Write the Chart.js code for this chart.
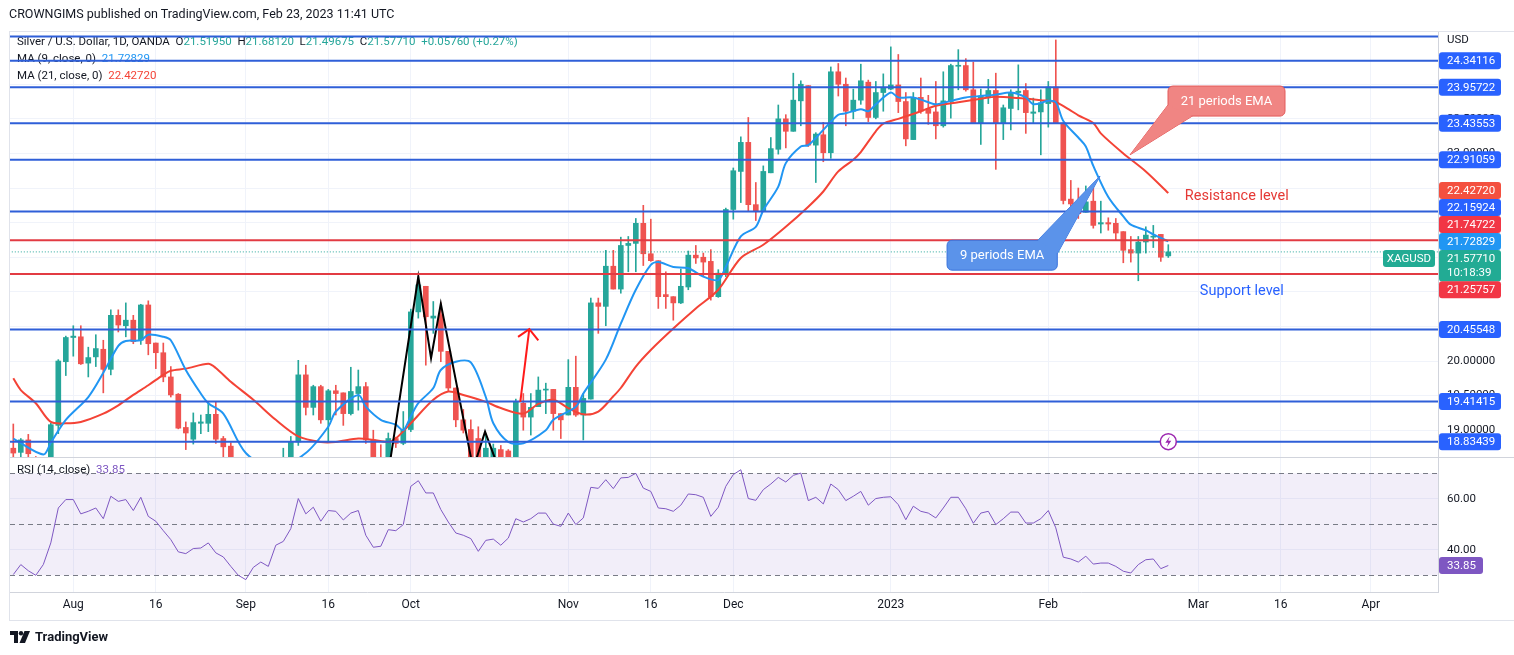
<!DOCTYPE html>
<html lang="en">
  <head>
    <meta charset="UTF-8" />
    <meta name="viewport" content="width=device-width, initial-scale=1.0" />
    <title>XAGUSD 1D</title>
    <script src="https://cdn.jsdelivr.net/npm/chart.js@4.4.1/dist/chart.umd.min.js"></script>
    <style>
      html,
      body {
        margin: 0;
        padding: 0;
        background: #fff;
      }
      body {
        width: 1514px;
        height: 655px;
        position: relative;
        overflow: hidden;
        font-family: Roboto, "Liberation Sans", sans-serif;
        color: #131722;
      }
      #priceChart {
        position: absolute;
        left: 0;
        top: 0;
      }
      .published {
        position: absolute;
        left: 9px;
        top: 6px;
        font-size: 12.5px;
        z-index: 2;
      }
      .frame {
        position: absolute;
        left: 9px;
        top: 31px;
        width: 1504px;
        height: 588px;
        border: 1px solid #e0e3eb;
        pointer-events: none;
      }
      .brand {
        position: absolute;
        left: 10px;
        top: 629px;
        font-size: 13px;
        font-weight: bold;
        display: flex;
        align-items: center;
        gap: 5px;
        z-index: 2;
      }
    </style>
  </head>
  <body>
    <div class="published">CROWNGIMS published on TradingView.com, Feb 23, 2023 11:41 UTC</div>
    <div class="frame"></div>
    <canvas id="priceChart" width="1514" height="655"></canvas>
    <div class="brand">
      <svg width="20" height="12" viewBox="0 0 20 12">
        <path d="M0 0h8v12H4V4H0z" fill="#131722" />
        <circle cx="11" cy="2.2" r="2.2" fill="#131722" />
        <path d="M14.5 0h5.5l-5 12H9.5z" fill="#131722" />
      </svg>
      TradingView
    </div>

    <script>
      // ---- Data ----
      // first bar is 2022-07-20, daily bars (weekdays, no bar on Dec 26 and Jan 2)
      const skipDays = ["2022-12-26", "2023-01-02"];
      const tickDates = [
        "2022-08-01", "2022-08-16", "2022-09-01", "2022-09-16", "2022-10-03",
        "2022-11-01", "2022-11-16", "2022-12-01", "2023-01-03", "2023-02-01",
        "2023-03-01", "2023-03-16", "2023-04-03",
      ];
      const tickTexts = ["Aug", "16", "Sep", "16", "Oct", "Nov", "16", "Dec", "2023", "Feb", "Mar", "16", "Apr"];

      const opens = [
        18.74, 18.68, 18.86, 18.6, 18.5, 18.5, 19.07, 19.99, 20.34, 20.35,
        19.97, 20.06, 20.17, 19.88, 20.66, 20.51, 20.59, 20.3, 20.81, 20.26,
        20.12, 19.77, 19.52, 19.04, 18.87, 19.1, 19.1, 19.23, 18.88, 18.77,
        18.5, 18.2, 18.0, 17.75, 17.85, 18.0, 18.1, 18.3, 18.83, 19.8,
        19.33, 19.63, 19.15, 19.57, 19.54, 19.24, 19.53, 19.63, 18.86, 18.55,
        18.5, 18.88, 18.81, 19.01, 20.71, 21.08, 20.62, 20.67, 20.14, 19.61,
        19.15, 19.01, 18.88, 18.6, 18.6, 18.72, 18.7, 18.6, 19.39, 19.19,
        19.34, 19.58, 19.59, 19.24, 19.22, 19.62, 19.22, 19.45, 20.84, 20.79,
        21.37, 21.04, 21.67, 21.7, 21.99, 21.55, 21.45, 20.96, 20.93, 20.84,
        21.07, 21.53, 21.5, 21.44, 20.93, 21.26, 22.19, 22.74, 23.16, 22.26,
        22.16, 22.72, 23.06, 23.5, 23.32, 23.76, 23.98, 23.12, 23.27, 23.01,
        24.18, 24.0, 23.61, 23.77, 24.03, 23.52, 23.88, 23.93, 23.99, 23.75,
        23.2, 23.81, 23.64, 23.6, 23.4, 23.75, 24.26, 24.27, 23.92, 23.43,
        23.82, 23.91, 23.43, 23.65, 23.88, 23.91, 23.58, 23.6, 23.72, 23.96,
        23.44, 22.34, 22.27, 22.15, 22.31, 21.98, 22.0, 21.99, 21.87, 21.61,
        21.56, 21.72, 21.79, 21.83, 21.5195,
      ];
      const highs = [
        19.09, 18.88, 18.94, 18.62, 18.6, 19.1, 20.02, 20.36, 20.51, 20.51,
        20.2, 20.38, 20.3, 20.74, 20.74, 20.84, 20.66, 20.82, 20.87, 20.26,
        20.26, 19.92, 19.53, 19.12, 19.25, 19.22, 19.41, 19.41, 18.91, 18.82,
        18.55, 18.35, 18.1, 18.0, 18.1, 18.3, 18.74, 18.91, 20.01, 19.94,
        19.65, 19.65, 19.59, 19.65, 19.54, 19.91, 19.87, 19.69, 19.0, 18.79,
        18.96, 18.9, 19.27, 20.75, 21.22, 21.08, 20.86, 20.84, 20.14, 19.61,
        19.3, 19.15, 19.05, 18.93, 18.8, 18.78, 18.72, 19.45, 19.53, 19.53,
        19.77, 19.68, 19.59, 19.24, 20.02, 20.07, 19.53, 20.91, 20.91, 21.6,
        21.6, 21.79, 21.8, 22.06, 22.25, 22.05, 21.45, 21.29, 20.93, 21.33,
        21.59, 21.67, 21.56, 21.61, 21.32, 22.21, 22.79, 23.24, 23.52, 22.58,
        22.82, 23.23, 23.7, 23.56, 24.16, 24.05, 23.98, 23.3, 23.45, 24.25,
        24.3, 24.09, 23.93, 24.29, 24.06, 24.04, 24.15, 24.54, 24.43, 23.88,
        23.88, 24.09, 23.84, 24.04, 24.18, 24.29, 24.5, 24.37, 24.32, 23.93,
        24.07, 24.16, 23.7, 23.92, 24.28, 24.01, 23.8, 23.92, 24.04, 24.64,
        23.44, 22.61, 22.5, 22.53, 22.52, 22.31, 22.07, 22.06, 21.87, 21.8,
        21.8, 21.94, 21.96, 21.83, 21.6812,
      ];
      const lows = [
        18.55, 18.6, 18.55, 18.4, 18.38, 18.45, 18.95, 19.79, 20.07, 19.95,
        19.77, 19.92, 19.54, 19.8, 20.42, 20.35, 20.25, 20.24, 20.09, 19.89,
        19.7, 19.48, 19.02, 18.72, 18.8, 18.95, 18.98, 18.81, 18.6, 18.4,
        18.1, 17.95, 17.6, 17.55, 17.7, 17.9, 17.95, 18.2, 18.78, 19.22,
        19.22, 19.1, 18.83, 19.22, 19.07, 19.22, 19.29, 18.81, 18.4, 18.3,
        18.4, 18.75, 18.79, 18.98, 20.62, 19.94, 20.4, 19.99, 19.56, 19.05,
        18.96, 18.4, 18.5, 18.45, 18.5, 18.5, 18.45, 18.55, 19.0, 18.93,
        19.34, 19.24, 19.0, 18.88, 19.22, 19.2, 18.86, 19.45, 20.4, 20.51,
        21.04, 20.98, 21.29, 21.29, 21.38, 21.44, 20.76, 20.76, 20.59, 20.83,
        21.03, 21.41, 21.22, 20.88, 20.92, 21.22, 22.05, 22.29, 22.16, 22.03,
        22.16, 22.72, 22.99, 23.08, 23.32, 23.4, 23.1, 22.58, 22.88, 22.93,
        23.83, 23.4, 23.5, 23.71, 23.46, 23.5, 23.61, 23.92, 23.59, 23.11,
        23.2, 23.58, 23.42, 23.21, 23.38, 23.51, 23.92, 23.9, 23.43, 23.13,
        23.72, 22.77, 23.2, 23.34, 23.63, 23.29, 23.43, 22.98, 23.38, 23.43,
        22.27, 22.17, 22.06, 22.15, 21.92, 21.85, 21.89, 21.75, 21.42, 21.43,
        21.16, 21.56, 21.64, 21.44, 21.49675,
      ];
      const closes = [
        18.67, 18.86, 18.66, 18.5, 18.45, 19.08, 20.0, 20.34, 20.36, 19.96,
        20.05, 20.18, 19.88, 20.66, 20.52, 20.59, 20.28, 20.81, 20.25, 20.12,
        19.77, 19.51, 19.03, 18.96, 19.11, 19.12, 19.23, 18.87, 18.76, 18.5,
        18.2, 18.0, 17.75, 17.85, 18.0, 18.1, 18.3, 18.83, 19.8, 19.33,
        19.63, 19.15, 19.57, 19.53, 19.24, 19.56, 19.63, 18.86, 18.55, 18.45,
        18.88, 18.81, 19.01, 20.71, 21.1, 20.64, 20.65, 20.14, 19.61, 19.15,
        19.0, 18.55, 18.6, 18.74, 18.74, 18.6, 18.6, 19.41, 19.19, 19.33,
        19.58, 19.59, 19.24, 19.15, 19.62, 19.22, 19.46, 20.84, 20.79, 21.37,
        21.04, 21.67, 21.7, 21.99, 21.55, 21.45, 20.93, 20.93, 20.84, 21.08,
        21.53, 21.49, 21.43, 20.93, 21.27, 22.19, 22.75, 23.16, 22.26, 22.16,
        22.74, 23.07, 23.5, 23.32, 23.77, 24.0, 23.12, 23.28, 23.01, 24.18,
        24.0, 23.61, 23.77, 24.05, 23.52, 23.88, 23.95, 23.99, 23.75, 23.21,
        23.81, 23.61, 23.58, 23.4, 23.76, 24.27, 24.27, 23.92, 23.43, 23.83,
        23.91, 23.43, 23.66, 23.88, 23.9, 23.59, 23.6, 23.73, 23.96, 23.43,
        22.32, 22.27, 22.13, 22.3, 21.96, 22.0, 21.98, 21.85, 21.6, 21.56,
        21.72, 21.82, 21.8, 21.5, 21.5771,
      ];

      // moving averages: [bar index, value]
      const ma9Points = [
        [0, 18.88], [4, 18.65], [5, 18.82], [7, 19.15], [10, 19.48], [12, 19.83], [14, 20.22],
        [15, 20.29], [17, 20.3], [18, 20.38], [20, 20.35], [21, 20.3], [23, 19.87], [25, 19.53],
        [26, 19.39], [28, 19.24], [31, 18.67], [35, 18.45], [39, 18.67], [42, 19.05], [43, 19.27],
        [46, 19.51], [47, 19.34], [49, 19.15], [51, 19.08], [52, 19.0], [53, 19.2], [54, 19.39],
        [56, 19.61], [57, 19.87], [59, 19.99], [61, 19.98], [63, 19.48], [64, 19.1], [66, 18.83],
        [68, 18.81], [71, 19.0], [72, 19.15], [75, 19.34], [76, 19.53], [79, 20.02], [81, 20.54],
        [83, 21.03], [85, 21.39], [86, 21.43], [88, 21.36], [90, 21.34], [92, 21.22], [94, 21.17],
        [95, 21.36], [97, 21.8], [99, 21.94], [100, 22.18], [102, 22.52], [103, 22.86], [105, 23.1],
        [106, 23.12], [108, 23.34], [110, 23.56], [111, 23.58], [113, 23.64], [114, 23.61],
        [115, 23.71], [117, 23.88], [118, 23.81], [120, 23.81], [122, 23.74], [123, 23.71],
        [125, 23.76], [127, 23.81], [129, 23.83], [131, 23.85], [133, 23.88], [135, 23.81],
        [136, 23.71], [138, 23.76], [139, 23.74], [140, 23.47], [142, 23.23], [143, 23.1],
        [144, 22.82], [146, 22.37], [148, 22.09], [149, 21.97], [151, 21.89], [152, 21.83],
        [154, 21.72829],
      ];
      const ma21Points = [
        [0, 19.75], [1, 19.58], [3, 19.39], [5, 19.12], [7, 19.1], [9, 19.12], [12, 19.24],
        [14, 19.36], [16, 19.51], [18, 19.65], [20, 19.8], [21, 19.86], [23, 19.89], [26, 19.96],
        [27, 19.9], [29, 19.7], [32, 19.44], [35, 19.15], [38, 18.91], [41, 18.83], [43, 18.83],
        [46, 18.88], [48, 18.86], [50, 18.83], [51, 18.88], [53, 19.1], [56, 19.44], [58, 19.56],
        [60, 19.51], [63, 19.41], [65, 19.32], [68, 19.24], [70, 19.38], [72, 19.44], [74, 19.32],
        [76, 19.23], [78, 19.27], [80, 19.49], [81, 19.61], [83, 19.92], [85, 20.16], [88, 20.47],
        [91, 20.76], [94, 21.03], [97, 21.49], [100, 21.68], [103, 21.94], [106, 22.23],
        [108, 22.45], [110, 22.74], [112, 22.91], [113, 23.02], [115, 23.32], [116, 23.43],
        [118, 23.5], [121, 23.61], [123, 23.69], [126, 23.74], [129, 23.79], [131, 23.82],
        [134, 23.8], [137, 23.77], [139, 23.74], [141, 23.62], [142, 23.55], [144, 23.44],
        [145, 23.29], [148, 23.0], [151, 22.74], [154, 22.4272],
      ];

      const rsi = [
        30.3, 34.2, 31.8, 30.0, 34.2, 42.7, 56.4, 59.7, 59.7, 54.1,
        55.1, 56.4, 52.2, 61.0, 59.0, 59.7, 55.4, 60.6, 53.1, 51.2,
        47.5, 44.0, 39.2, 38.5, 40.5, 40.7, 42.7, 38.8, 37.2, 33.5,
        30.0, 28.3, 33.1, 35.2, 33.5, 41.8, 43.3, 48.3, 60.1, 54.1,
        56.7, 51.2, 55.4, 55.1, 51.7, 54.4, 55.4, 45.7, 41.0, 41.4,
        47.9, 47.5, 49.9, 64.9, 67.1, 62.3, 62.3, 55.8, 50.9, 46.6,
        45.7, 44.4, 39.4, 43.7, 44.2, 41.8, 44.6, 52.2, 50.9, 52.2,
        54.4, 54.4, 50.1, 49.2, 54.4, 49.9, 52.5, 64.5, 64.1, 67.5,
        64.0, 68.2, 68.4, 70.0, 64.2, 62.9, 56.4, 56.1, 55.1, 57.5,
        61.9, 61.6, 60.6, 53.1, 56.7, 64.9, 69.5, 71.4, 60.1, 59.4,
        63.6, 65.8, 68.4, 66.6, 69.2, 70.1, 59.3, 60.6, 58.0, 65.8,
        63.6, 59.3, 61.0, 62.9, 57.5, 60.1, 60.6, 60.8, 57.7, 51.8,
        57.1, 55.1, 54.4, 52.5, 56.4, 60.6, 60.6, 56.1, 50.4, 54.4,
        55.1, 49.9, 52.2, 54.8, 54.8, 50.5, 50.5, 52.2, 55.4, 48.6,
        37.1, 36.4, 35.2, 37.5, 34.4, 34.8, 34.8, 33.5, 31.6, 30.9,
        34.2, 36.1, 36.4, 32.6, 33.85,
      ];
      const rsiLevels = [70, 50, 30];

      const blueLevels = [24.69, 24.34116, 23.95722, 23.43553, 22.91059, 22.15924, 20.45548, 19.41415, 18.83439];
      const redLevels = [21.74722, 21.25757];
      const priceTicks = [19, 19.5, 20, 20.5, 21, 21.5, 22, 22.5, 23, 23.5, 24];
      const rsiTicks = [40, 60];

      // hand-drawn zigzag (black) and arrow (red), [bar index, price]
      const zigzag = [[50.1, 18.45], [54, 21.22], [55.7, 20.04], [57, 20.83], [61.3, 18.45], null, [61.7, 18.57], [62.9, 18.98], [64.3, 18.57]];
      const arrowShaft = [[67.6, 19.41], [68.8, 20.46]];
      const arrowHead = [[67.3, 20.35], [68.8, 20.46], [70.0, 20.3]];

      // ---- Build categories (trading days) ----
      const dates = [];
      for (let d = new Date(Date.UTC(2022, 6, 20)); dates.length < 190; d.setUTCDate(d.getUTCDate() + 1)) {
        const s = d.toISOString().slice(0, 10);
        const wd = d.getUTCDay();
        if (wd === 0 || wd === 6 || skipDays.includes(s)) continue;
        dates.push(s);
      }
      const last = closes.length - 1;

      const UP = "#26a69a";
      const DOWN = "#ef5350";
      const MA9_COLOR = "#2196f3";
      const MA21_COLOR = "#f44336";
      const BLUE_LINE = "#2f5fd8";
      const RED_LINE = "#e23b43";
      const candleColor = (c) => (closes[c.dataIndex] >= opens[c.dataIndex] ? UP : DOWN);

      // annotations placed in data coordinates
      const callouts = [
        {
          text: "21 periods EMA",
          box: [153.96, 23.974, 169.56, 23.54],
          tail: [[153.96, 23.7], [157.2, 23.54], [148.9, 22.98]],
          fill: "#f08583",
          stroke: "#e35a5a",
        },
        {
          text: "9 periods EMA",
          box: [124.5, 21.745, 139.2, 21.313],
          tail: [[136.6, 21.745], [139.2, 21.55], [144.9, 22.674]],
          fill: "#5b93ea",
          stroke: "#3b74dc",
        },
      ];
      const notes = [
        { text: "Resistance level", at: [156.2, 22.385], color: "#e53935" },
        { text: "Support level", at: [158.2, 21.012], color: "#2962ff" },
      ];

      function drawRuns(ctx, x0, y0, runs, font) {
        ctx.font = font;
        ctx.textAlign = "left";
        ctx.textBaseline = "middle";
        let xx = x0;
        for (const [t, c] of runs) {
          ctx.fillStyle = c;
          ctx.fillText(t, xx, y0);
          xx += ctx.measureText(t).width;
        }
      }

      function spreadBadges(items) {
        items.sort((a, b) => a.y - b.y);
        items.forEach((it) => (it.c = it.y));
        for (let k = 0; k < 300; k++) {
          let moved = false;
          for (let j = 1; j < items.length; j++) {
            const a = items[j - 1];
            const b = items[j];
            const overlap = a.c + a.down - (b.c - b.up);
            if (overlap > 0.05) {
              a.c -= overlap / 2;
              b.c += overlap / 2;
              moved = true;
            }
          }
          if (!moved) break;
        }
      }

      const paneDrawings = {
        id: "paneDrawings",
        beforeDatasetsDraw(chart) {
          const { ctx, scales } = chart;
          const { x, y, y2 } = scales;
          ctx.save();
          // RSI band and levels
          const t70 = y2.getPixelForValue(70);
          const b30 = y2.getPixelForValue(30);
          ctx.fillStyle = "rgba(126, 87, 194, 0.1)";
          ctx.fillRect(x.left, t70, x.right - x.left, b30 - t70);
          ctx.strokeStyle = "#787b86";
          ctx.lineWidth = 1;
          ctx.setLineDash([5, 4]);
          rsiLevels.forEach((v) => {
            const py = Math.round(y2.getPixelForValue(v)) + 0.5;
            ctx.beginPath();
            ctx.moveTo(x.left, py);
            ctx.lineTo(x.right, py);
            ctx.stroke();
          });
          ctx.setLineDash([]);
          // pane separator
          ctx.strokeStyle = "#d1d4dc";
          ctx.beginPath();
          ctx.moveTo(x.left, Math.round(y.bottom) + 0.5);
          ctx.lineTo(chart.width, Math.round(y.bottom) + 0.5);
          ctx.stroke();

          // legends
          const f = '11.5px Roboto, "Liberation Sans", sans-serif';
          const dark = "#131722";
          drawRuns(ctx, 17, y.top + 10, [
            ["Silver / U.S. Dollar, 1D, OANDA  O", dark],
            [opens[last].toFixed(5), UP],
            ["  H", dark],
            [highs[last].toFixed(5), UP],
            ["  L", dark],
            [lows[last].toFixed(5), UP],
            ["  C", dark],
            [closes[last].toFixed(5), UP],
            ["  +0.05760 (+0.27%)", UP],
          ], f);
          drawRuns(ctx, 17, y.top + 27, [["MA (9, close, 0)  ", dark], [ma9Points[ma9Points.length - 1][1].toFixed(5), MA9_COLOR]], f);
          drawRuns(ctx, 17, y.top + 44, [["MA (21, close, 0)  ", dark], [ma21Points[ma21Points.length - 1][1].toFixed(5), MA21_COLOR]], f);
          drawRuns(ctx, 17, y2.top + 13, [["RSI (14, close)  ", dark], [rsi[last].toFixed(2), "#7e57c2"]], f);
          ctx.restore();
        },
        afterDatasetsDraw(chart) {
          const { ctx, scales } = chart;
          const { x, y, y2 } = scales;
          const P = ([i, p]) => [x.getPixelForValue(i), y.getPixelForValue(p)];
          ctx.save();
          ctx.beginPath();
          ctx.rect(x.left, y.top, x.right - x.left, y.bottom - y.top);
          ctx.clip();

          // callouts
          callouts.forEach((c) => {
            const [bx0, by0] = P([c.box[0], c.box[1]]);
            const [bx1, by1] = P([c.box[2], c.box[3]]);
            const tail = () => {
              ctx.beginPath();
              c.tail.forEach((pt, k) => {
                const [px, py] = P(pt);
                k ? ctx.lineTo(px, py) : ctx.moveTo(px, py);
              });
              ctx.closePath();
            };
            ctx.fillStyle = c.fill;
            ctx.strokeStyle = c.stroke;
            ctx.lineWidth = 1;
            tail();
            ctx.fill();
            ctx.stroke();
            ctx.beginPath();
            ctx.roundRect(bx0, by0, bx1 - bx0, by1 - by0, 5);
            ctx.fill();
            ctx.stroke();
            tail();
            ctx.fill();
            ctx.fillStyle = "#ffffff";
            ctx.font = '13px Roboto, "Liberation Sans", sans-serif';
            ctx.textAlign = "center";
            ctx.textBaseline = "middle";
            ctx.fillText(c.text, (bx0 + bx1) / 2, (by0 + by1) / 2 + 1);
          });

          // text notes
          notes.forEach((n) => {
            const [px, py] = P(n.at);
            ctx.fillStyle = n.color;
            ctx.font = '14.5px Roboto, "Liberation Sans", sans-serif';
            ctx.textAlign = "left";
            ctx.textBaseline = "middle";
            ctx.fillText(n.text, px, py);
          });

          // red arrow
          ctx.strokeStyle = "#ff1a1a";
          ctx.lineWidth = 2;
          ctx.lineJoin = "miter";
          [arrowShaft, arrowHead].forEach((seg) => {
            ctx.beginPath();
            seg.forEach((pt, k) => {
              const [px, py] = P(pt);
              k ? ctx.lineTo(px, py) : ctx.moveTo(px, py);
            });
            ctx.stroke();
          });

          // lightning marker
          const [lx, ly] = P([last, blueLevels[blueLevels.length - 1]]);
          ctx.beginPath();
          ctx.arc(lx, ly, 8, 0, Math.PI * 2);
          ctx.fillStyle = "#ffffff";
          ctx.fill();
          ctx.strokeStyle = "#9c27b0";
          ctx.lineWidth = 1.5;
          ctx.stroke();
          ctx.beginPath();
          ctx.moveTo(lx + 1.5, ly - 5.5);
          ctx.lineTo(lx - 3, ly + 1);
          ctx.lineTo(lx, ly + 1);
          ctx.lineTo(lx - 1.5, ly + 5.5);
          ctx.lineTo(lx + 3, ly - 1);
          ctx.lineTo(lx, ly - 1);
          ctx.closePath();
          ctx.fillStyle = "#9c27b0";
          ctx.fill();
          ctx.restore();

          // price axis badges
          ctx.save();
          const badges = [];
          blueLevels.slice(1).forEach((v) => badges.push({ v, color: "#2962ff", text: v.toFixed(5) }));
          redLevels.forEach((v) => badges.push({ v, color: "#f23645", text: v.toFixed(5) }));
          const ma9Last = ma9Points[ma9Points.length - 1][1];
          const ma21Last = ma21Points[ma21Points.length - 1][1];
          badges.push({ v: ma21Last, color: "#f4503f", text: ma21Last.toFixed(5) });
          badges.push({ v: ma9Last, color: "#2196f3", text: ma9Last.toFixed(5) });
          badges.push({ v: closes[last], color: "#22ab94", text: closes[last].toFixed(5), sub: "10:18:39" });
          badges.forEach((b) => {
            b.y = y.getPixelForValue(b.v);
            b.up = 8.5;
            b.down = b.sub ? 23 : 8.5;
          });
          spreadBadges(badges);
          const ax = x.right + 1;
          ctx.font = '11.5px Roboto, "Liberation Sans", sans-serif';
          ctx.textBaseline = "middle";
          badges.forEach((b) => {
            ctx.fillStyle = b.color;
            ctx.beginPath();
            ctx.roundRect(ax, b.c - b.up, 62, b.up + b.down, 3);
            ctx.fill();
            ctx.fillStyle = "#ffffff";
            ctx.textAlign = "left";
            ctx.fillText(b.text, ax + 8, b.c + 0.5);
            if (b.sub) {
              ctx.fillText(b.sub, ax + 8, b.c + 15);
              ctx.fillStyle = b.color;
              ctx.beginPath();
              ctx.roundRect(x.right - 55, b.c - 8.5, 52, 17, 3);
              ctx.fill();
              ctx.fillStyle = "#ffffff";
              ctx.textAlign = "center";
              ctx.fillText("XAGUSD", x.right - 29, b.c + 0.5);
            }
          });
          // RSI badge
          const ry = y2.getPixelForValue(rsi[last]);
          ctx.fillStyle = "#7e57c2";
          ctx.beginPath();
          ctx.roundRect(ax, ry - 8.5, 44, 17, 3);
          ctx.fill();
          ctx.fillStyle = "#ffffff";
          ctx.textAlign = "left";
          ctx.fillText(rsi[last].toFixed(2), ax + 8, ry + 0.5);
          // currency
          ctx.fillStyle = "#131722";
          ctx.fillText("USD", ax + 8, y.top + 8);
          ctx.restore();
        },
      };

      Chart.defaults.font.family = 'Roboto, "Liberation Sans", sans-serif';
      Chart.defaults.color = "#131722";

      const levelSet = (v, color, extra = {}) => ({
        type: "line",
        data: [{ x: -1, y: v }, { x: 200, y: v }],
        borderColor: color,
        borderWidth: 2,
        pointRadius: 0,
        yAxisID: "y",
        order: 0,
        ...extra,
      });

      const datasets = [
        ...blueLevels.map((v) => levelSet(v, BLUE_LINE)),
        ...redLevels.map((v) => levelSet(v, RED_LINE)),
        levelSet(closes[last], UP, { borderWidth: 1, borderDash: [1, 2] }),
        {
          type: "line",
          data: zigzag.map((p) => (p ? { x: p[0], y: p[1] } : { x: 61.5, y: null })),
          borderColor: "#000000",
          borderWidth: 2,
          pointRadius: 0,
          spanGaps: false,
          yAxisID: "y",
          order: 1,
        },
        {
          type: "line",
          data: ma9Points.map(([i, v]) => ({ x: i, y: v })),
          borderColor: MA9_COLOR,
          borderWidth: 2,
          pointRadius: 0,
          tension: 0.3,
          yAxisID: "y",
          order: 2,
        },
        {
          type: "line",
          data: ma21Points.map(([i, v]) => ({ x: i, y: v })),
          borderColor: MA21_COLOR,
          borderWidth: 2,
          pointRadius: 0,
          tension: 0.3,
          yAxisID: "y",
          order: 2,
        },
        {
          type: "bar",
          data: closes.map((c, i) => ({ x: i, y: [opens[i], c] })),
          backgroundColor: candleColor,
          barThickness: 5,
          minBarLength: 1,
          grouped: false,
          yAxisID: "y",
          order: 3,
        },
        {
          type: "bar",
          data: closes.map((c, i) => ({ x: i, y: [lows[i], highs[i]] })),
          backgroundColor: candleColor,
          barThickness: 1,
          grouped: false,
          yAxisID: "y",
          order: 4,
        },
        {
          type: "line",
          data: rsi.map((v, i) => ({ x: i, y: v })),
          borderColor: "#7e57c2",
          borderWidth: 1,
          pointRadius: 0,
          yAxisID: "y2",
          order: 0,
        },
      ];

      const ctx = document.getElementById("priceChart").getContext("2d");
      const priceChart = new Chart(ctx, {
        type: "bar",
        data: { datasets },
        plugins: [paneDrawings],
        options: {
          responsive: false,
          animation: false,
          layout: { padding: { left: 10, top: 32, right: 0, bottom: 35 } },
          plugins: { legend: { display: false }, tooltip: { enabled: false } },
          scales: {
            x: {
              type: "linear",
              min: -0.44,
              max: 189.96,
              offset: false,
              afterBuildTicks: (s) => {
                s.ticks = tickDates.map((d) => ({ value: dates.indexOf(d) }));
              },
              afterFit: (s) => {
                s.height = 28;
              },
              ticks: {
                autoSkip: false,
                maxRotation: 0,
                padding: 6,
                font: { size: 12 },
                color: "#131722",
                callback: (v) => {
                  const k = tickDates.indexOf(dates[v]);
                  return k >= 0 ? tickTexts[k] : "";
                },
              },
              grid: { color: "#f0f3fa", drawTicks: false, offset: false },
              border: { color: "#d1d4dc" },
            },
            y: {
              position: "right",
              stack: "panes",
              stackWeight: 425,
              min: 18.613,
              max: 24.755,
              beginAtZero: false,
              afterBuildTicks: (s) => {
                s.ticks = priceTicks.map((v) => ({ value: v }));
              },
              afterFit: (s) => {
                s.width = 76;
              },
              ticks: { padding: 9, font: { size: 11.5 }, color: "#131722", callback: (v) => v.toFixed(5) },
              grid: { color: "#f0f3fa", drawTicks: false },
              border: { color: "#d1d4dc" },
            },
            y2: {
              position: "right",
              stack: "panes",
              stackWeight: 135,
              min: 23.45,
              max: 76.4,
              beginAtZero: false,
              afterBuildTicks: (s) => {
                s.ticks = rsiTicks.map((v) => ({ value: v }));
              },
              afterFit: (s) => {
                s.width = 76;
              },
              ticks: { padding: 9, font: { size: 11.5 }, color: "#131722", callback: (v) => v.toFixed(2) },
              grid: { color: "#f0f3fa", drawTicks: false },
              border: { color: "#d1d4dc" },
            },
          },
        },
      });
    </script>
  </body>
</html>
